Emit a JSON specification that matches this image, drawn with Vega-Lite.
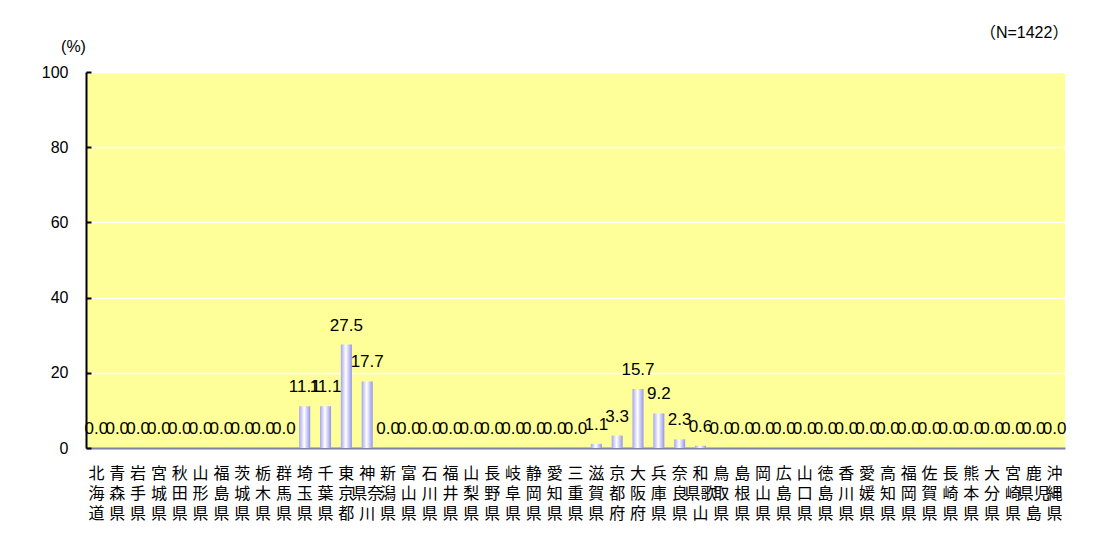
{
  "$schema": "https://vega.github.io/schema/vega-lite/v6.json",
  "autosize": {"type": "none"},
  "width": 979,
  "height": 376,
  "padding": {"left": 86, "top": 72, "right": 39, "bottom": 89},
  "background": "#ffffff",
  "title": {"text": "（N=1422）", "anchor": "end", "orient": "top", "offset": 0, "dx": 2, "dy": 3, "fontSize": 16, "fontWeight": "normal", "font": "Liberation Sans, Noto Sans CJK JP", "color": "#000000"},
  "config": {
    "view": {"fill": "#ffff99", "stroke": null},
    "font": "Liberation Sans"
  },
  "data": {"values": [
    {"pref": "北海道", "pct": 0.0},
    {"pref": "青森県", "pct": 0.0},
    {"pref": "岩手県", "pct": 0.0},
    {"pref": "宮城県", "pct": 0.0},
    {"pref": "秋田県", "pct": 0.0},
    {"pref": "山形県", "pct": 0.0},
    {"pref": "福島県", "pct": 0.0},
    {"pref": "茨城県", "pct": 0.0},
    {"pref": "栃木県", "pct": 0.0},
    {"pref": "群馬県", "pct": 0.0},
    {"pref": "埼玉県", "pct": 11.1},
    {"pref": "千葉県", "pct": 11.1},
    {"pref": "東京都", "pct": 27.5},
    {"pref": "神奈川県", "pct": 17.7},
    {"pref": "新潟県", "pct": 0.0},
    {"pref": "富山県", "pct": 0.0},
    {"pref": "石川県", "pct": 0.0},
    {"pref": "福井県", "pct": 0.0},
    {"pref": "山梨県", "pct": 0.0},
    {"pref": "長野県", "pct": 0.0},
    {"pref": "岐阜県", "pct": 0.0},
    {"pref": "静岡県", "pct": 0.0},
    {"pref": "愛知県", "pct": 0.0},
    {"pref": "三重県", "pct": 0.0},
    {"pref": "滋賀県", "pct": 1.1},
    {"pref": "京都府", "pct": 3.3},
    {"pref": "大阪府", "pct": 15.7},
    {"pref": "兵庫県", "pct": 9.2},
    {"pref": "奈良県", "pct": 2.3},
    {"pref": "和歌山県", "pct": 0.6},
    {"pref": "鳥取県", "pct": 0.0},
    {"pref": "島根県", "pct": 0.0},
    {"pref": "岡山県", "pct": 0.0},
    {"pref": "広島県", "pct": 0.0},
    {"pref": "山口県", "pct": 0.0},
    {"pref": "徳島県", "pct": 0.0},
    {"pref": "香川県", "pct": 0.0},
    {"pref": "愛媛県", "pct": 0.0},
    {"pref": "高知県", "pct": 0.0},
    {"pref": "福岡県", "pct": 0.0},
    {"pref": "佐賀県", "pct": 0.0},
    {"pref": "長崎県", "pct": 0.0},
    {"pref": "熊本県", "pct": 0.0},
    {"pref": "大分県", "pct": 0.0},
    {"pref": "宮崎県", "pct": 0.0},
    {"pref": "鹿児島県", "pct": 0.0},
    {"pref": "沖縄県", "pct": 0.0}
  ]},
  "encoding": {
    "x": {
      "field": "pref", "type": "nominal", "sort": null,
      "scale": {"paddingInner": 0.47, "paddingOuter": 0.235},
      "axis": {
        "title": null, "labelAngle": 0, "ticks": false,
        "domainColor": "#7f7fa8", "domainWidth": 2,
        "labelFont": "Noto Sans CJK JP", "labelFontSize": 16, "labelColor": "#000000",
        "labelLineHeight": 20, "labelPadding": 17, "labelBaseline": "top",
        "labelOverlap": false, "labelBound": false, "labelFlush": false,
        "labelExpr": "length(datum.value) == 4 ? ['\u3000' + substring(datum.value, 0, 1), substring(datum.value, 3, 4) + substring(datum.value, 1, 2), '\u3000' + substring(datum.value, 2, 3)] : [substring(datum.value, 0, 1), substring(datum.value, 1, 2), substring(datum.value, 2, 3)]"
      }
    },
    "y": {
      "field": "pct", "type": "quantitative",
      "scale": {"domain": [0, 100], "nice": false},
      "axis": {
        "values": [0, 20, 40, 60, 80, 100],
        "title": "(%)", "titleAngle": 0, "titleX": -13, "titleY": -26,
        "titleAlign": "center", "titleBaseline": "middle",
        "titleFontSize": 16, "titleFontWeight": "normal", "titleColor": "#000000",
        "labelFontSize": 16, "labelColor": "#000000", "labelPadding": 23,
        "domainColor": "#000000", "domainWidth": 2,
        "tickColor": "#000000", "tickSize": -5, "tickWidth": 2,
        "grid": true, "gridColor": "#ffffff", "gridWidth": 1.5
      }
    }
  },
  "layer": [
    {
      "mark": {
        "type": "bar",
        "color": {
          "gradient": "linear", "x1": 0, "x2": 1, "y1": 0, "y2": 0,
          "stops": [
            {"offset": 0, "color": "#a4a4f2"},
            {"offset": 0.45, "color": "#ffffff"},
            {"offset": 1, "color": "#9494ea"}
          ]
        }
      }
    },
    {
      "mark": {"type": "text", "baseline": "alphabetic", "dy": -14, "fontSize": 17, "color": "#000000", "font": "Liberation Sans"},
      "encoding": {"text": {"field": "pct", "type": "quantitative", "format": ".1f"}}
    }
  ]
}
